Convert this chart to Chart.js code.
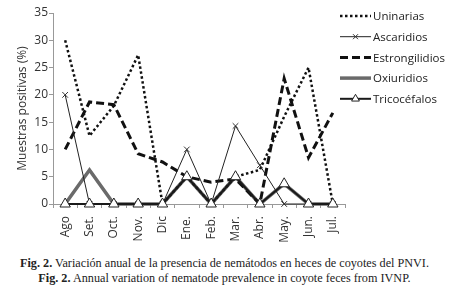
<!DOCTYPE html>
<html>
<head>
<meta charset="utf-8">
<script src="https://cdn.jsdelivr.net/npm/chart.js@4.4.0/dist/chart.umd.min.js"></script>
<style>
  body { margin: 0; background: #fff; width: 449px; height: 295px; overflow: hidden; }
  #wrap { position: relative; width: 449px; height: 246px; }
  .cap { font-family: "Liberation Serif", "Times New Roman", serif; font-size: 12.2px; color: #222;
         text-align: center; line-height: 15px; }
  #caption { margin-top: 10px; }
</style>
</head>
<body>
<div id="wrap"><canvas id="grafico" width="449" height="246"></canvas></div>
<div id="caption">
  <div class="cap"><b>Fig. 2.</b> Variación anual de la presencia de nemátodos en heces de coyotes del PNVI.</div>
  <div class="cap"><b>Fig. 2.</b> Annual variation of nematode prevalence in coyote feces from IVNP.</div>
</div>
<script>
// meses
const meses = ["Ago", "Set.", "Oct.", "Nov.", "Dic", "Ene.", "Feb.", "Mar.", "Abr.", "May.", "Jun.", "Jul."];

// valores (%)
const uninarias      = [30, 12.5, 18, 27.3, 0, 5, 0, 5, 6.25, 16, 25, 0];
const ascaridios     = [20, 0, 0, 0, 0, 10, 0, 14.3, 7.1, 0, 0, 0];
const estrongilidios = [10, 18.7, 18.2, 9.2, 7.7, 5, 4, 4.6, 0, 23, 8.5, 16.7];
const oxiuridios     = [0, 6.25, 0, 0, 0, 5, 0, 5, 0, 3.7, 0, 0];
const tricocefalos   = [0, 0, 0, 0, 0, 5, 0, 5, 0, 3.7, 0, 0];

const yTicks = [0, 5, 10, 15, 20, 25, 30, 35];

const fuente = "'Open Sans', 'DejaVu Sans', sans-serif";

const series = [
  { label: "Uninarias", data: uninarias, borderColor: "#111", borderWidth: 2.5, borderDash: [2.5, 2.5],
    pointRadius: 0, order: 3 },
  { label: "Ascaridios", data: ascaridios, borderColor: "#222", borderWidth: 1,
    pointStyle: "crossRot", pointRadius: 4, pointBorderColor: "#333", pointBorderWidth: 1, order: 2 },
  { label: "Estrongilidios", data: estrongilidios, borderColor: "#111", borderWidth: 3, borderDash: [8, 4],
    pointRadius: 0, order: 4 },
  { label: "Oxiuridios", data: oxiuridios, borderColor: "#6a6a6a", borderWidth: 3.5,
    pointRadius: 0, order: 5 },
  { label: "Tricocéfalos", data: tricocefalos, borderColor: "#1a1a1a", borderWidth: 2,
    pointStyle: "triangle", pointRadius: 6, pointBackgroundColor: "#fff", pointBorderColor: "#222",
    pointBorderWidth: 1, order: 0 }
];

// leyenda dibujada a mano (muestra de linea + marcador)
const leyenda = {
  id: "leyenda",
  afterDraw(chart) {
    const ctx = chart.ctx;
    const x0 = 340, x1 = 371, yStart = 16, paso = 20.7;
    ctx.save();
    chart.data.datasets.forEach((ds, i) => {
      const y = yStart + i * paso;
      const cx = (x0 + x1) / 2;
      ctx.beginPath();
      ctx.setLineDash(ds.borderDash || []);
      ctx.lineWidth = ds.borderWidth;
      ctx.strokeStyle = ds.borderColor;
      ctx.moveTo(x0, y);
      ctx.lineTo(x1, y);
      ctx.stroke();
      ctx.setLineDash([]);
      if (ds.pointRadius > 0) {
        ctx.fillStyle = ds.pointBackgroundColor || "#fff";
        ctx.strokeStyle = ds.pointBorderColor || "#222";
        ctx.lineWidth = 1;
        ctx.beginPath();
        if (ds.pointStyle === "triangle") {
          const r = 4.5;
          ctx.moveTo(cx, y - r);
          ctx.lineTo(cx + r * 0.866, y + r * 0.5);
          ctx.lineTo(cx - r * 0.866, y + r * 0.5);
          ctx.closePath();
          ctx.fill();
          ctx.stroke();
        } else {
          const r = 2.5;
          ctx.moveTo(cx - r, y - r); ctx.lineTo(cx + r, y + r);
          ctx.moveTo(cx + r, y - r); ctx.lineTo(cx - r, y + r);
          ctx.stroke();
        }
      }
      ctx.fillStyle = "#222";
      ctx.font = "11.5px " + fuente;
      ctx.textBaseline = "middle";
      ctx.textAlign = "left";
      ctx.fillText(ds.label, x1 + 2, y + 1);
    });
    ctx.restore();
  }
};

const ctx = document.getElementById("grafico").getContext("2d");

new Chart(ctx, {
  type: "line",
  data: {
    labels: meses,
    datasets: series.map(s => Object.assign({ fill: false, tension: 0, clip: false }, s))
  },
  options: {
    responsive: false,
    animation: false,
    layout: { padding: { top: 13, right: 104, left: 0, bottom: 0 } },
    plugins: { legend: { display: false }, tooltip: { enabled: false } },
    scales: {
      x: {
        type: "category",
        offset: true,
        grid: { offset: true, drawOnChartArea: false, drawTicks: true, tickLength: 4, color: "#999" },
        border: { color: "#999", width: 1 },
        ticks: {
          color: "#333", font: { family: fuente, size: 12 },
          minRotation: 90, maxRotation: 90, padding: 8, autoSkip: false
        },
        afterFit(scale) { scale.height = 246 - 204; }
      },
      y: {
        min: 0, max: 35,
        afterBuildTicks(scale) { scale.ticks = yTicks.map(v => ({ value: v })); },
        grid: { drawOnChartArea: false, drawTicks: true, tickLength: 4, color: "#999" },
        border: { color: "#999", width: 1 },
        ticks: { color: "#333", font: { family: fuente, size: 12 }, padding: 1 },
        title: {
          display: true, text: "Muestras positivas (%)", color: "#333",
          font: { family: fuente, size: 12 }, padding: { top: 15, bottom: 4 }
        },
        afterFit(scale) { scale.width = 53; }
      }
    }
  },
  plugins: [leyenda]
});
</script>
</body>
</html>
